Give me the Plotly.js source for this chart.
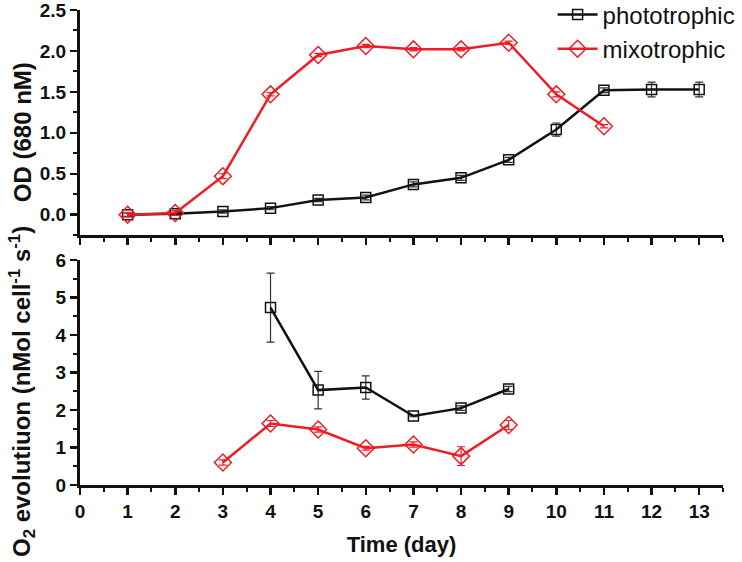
<!DOCTYPE html>
<html>
<head>
<meta charset="utf-8">
<script src="https://cdn.plot.ly/plotly-3.0.1.min.js"></script>
<style>
  body { margin: 0; background: #fff; }
  #chart { width: 742px; height: 562px; }
</style>
</head>
<body>
<div id="chart"></div>
<script>
// data ---------------------------------------------------------------------
const days = [1, 2, 3, 4, 5, 6, 7, 8, 9, 10, 11, 12, 13];

const odPhoto = [0.0, 0.01, 0.04, 0.08, 0.18, 0.21, 0.37, 0.45, 0.67, 1.04, 1.52, 1.53, 1.53];
const odPhotoErr = [0.02, 0.02, 0.02, 0.02, 0.02, 0.03, 0.03, 0.03, 0.03, 0.08, 0.03, 0.09, 0.09];

const daysMixOd = [1, 2, 3, 4, 5, 6, 7, 8, 9, 10, 11];
const odMixo = [0.0, 0.02, 0.47, 1.47, 1.95, 2.06, 2.02, 2.02, 2.10, 1.47, 1.08];
const odMixoErr = [0.03, 0.03, 0.03, 0.02, 0.02, 0.02, 0.02, 0.02, 0.02, 0.03, 0.02];

const daysO2Photo = [4, 5, 6, 7, 8, 9];
const o2Photo = [4.73, 2.53, 2.60, 1.84, 2.05, 2.56];
const o2PhotoErr = [0.92, 0.50, 0.31, 0.02, 0.06, 0.07];

const daysO2Mixo = [3, 4, 5, 6, 7, 8, 9];
const o2Mixo = [0.60, 1.64, 1.48, 0.98, 1.08, 0.77, 1.60];
const o2MixoErr = [0.07, 0.08, 0.07, 0.05, 0.07, 0.25, 0.12];

const xTicks = [0, 1, 2, 3, 4, 5, 6, 7, 8, 9, 10, 11, 12, 13];

// styles -------------------------------------------------------------------
const BLACK = "#111111";
const RED = "#ee1c24";
const FONT = "Liberation Sans, Arial, sans-serif";

function photoTrace(x, y, err, yaxis, xaxis, showlegend) {
    return {
        x: x, y: y, xaxis: xaxis, yaxis: yaxis,
        mode: "lines+markers", name: "phototrophic", showlegend: showlegend,
        line: { color: BLACK, width: 2.5 },
        marker: { symbol: "square-open", size: 10, color: BLACK, line: { width: 1.5 } },
        error_y: { type: "data", array: err, color: "#333333", thickness: 1.2, width: 4 }
    };
}

function mixoTrace(x, y, err, yaxis, xaxis, showlegend) {
    return {
        x: x, y: y, xaxis: xaxis, yaxis: yaxis,
        mode: "lines+markers", name: "mixotrophic", showlegend: showlegend,
        line: { color: RED, width: 2.5 },
        marker: { symbol: "diamond-open", size: 13, color: RED, line: { width: 1.5 } },
        error_y: { type: "data", array: err, color: RED, thickness: 1.2, width: 4 }
    };
}

const data = [
    photoTrace(days, odPhoto, odPhotoErr, "y", "x", true),
    mixoTrace(daysMixOd, odMixo, odMixoErr, "y", "x", true),
    photoTrace(daysO2Photo, o2Photo, o2PhotoErr, "y2", "x2", false),
    mixoTrace(daysO2Mixo, o2Mixo, o2MixoErr, "y2", "x2", false)
];

const axisCommon = {
    showline: true, linecolor: BLACK, linewidth: 3,
    ticks: "outside", ticklen: 7, tickwidth: 2.5, tickcolor: BLACK,
    showgrid: false, zeroline: false, ticklabeloverflow: "allow",
    tickfont: { family: FONT, size: 19, color: BLACK, weight: "bold" }
};

const minorTicks = { ticklen: 4, tickwidth: 2, tickcolor: BLACK, ticks: "outside" };
const titleFont = { family: FONT, size: 24, color: BLACK, weight: "bold" };

const layout = {
    width: 742, height: 562,
    margin: { l: 80, r: 19, t: 10, b: 77, autoexpand: false },
    paper_bgcolor: "#fff", plot_bgcolor: "#fff",
    font: { family: FONT, color: BLACK },
    showlegend: true,
    legend: {
        x: 0.735, y: 1.037, xanchor: "left", yanchor: "top",
        font: { family: FONT, size: 24, color: BLACK },
        bgcolor: "rgba(0,0,0,0)", tracegroupgap: 0, itemwidth: 40
    },
    xaxis: Object.assign({}, axisCommon, {
        domain: [0, 1], anchor: "y", range: [0, 13.5],
        tickvals: xTicks, showticklabels: false,
        minor: Object.assign({ dtick: 0.5 }, minorTicks)
    }),
    yaxis: Object.assign({}, axisCommon, {
        domain: [0.526, 1], anchor: "x", range: [-0.25, 2.5],
        tickvals: [0, 0.5, 1, 1.5, 2, 2.5], ticktext: ["0.0", "0.5", "1.0", "1.5", "2.0", "2.5"],
        minor: Object.assign({ tickvals: [-0.25, 0.25, 0.75, 1.25, 1.75, 2.25] }, minorTicks)
    }),
    xaxis2: Object.assign({}, axisCommon, {
        domain: [0, 1], anchor: "y2", range: [0, 13.5],
        tickvals: xTicks,
        minor: Object.assign({ dtick: 0.5 }, minorTicks),
        title: { text: "Time (day)", font: { family: FONT, size: 22, color: BLACK, weight: "bold" }, standoff: 16 }
    }),
    yaxis2: Object.assign({}, axisCommon, {
        domain: [0, 0.4737], anchor: "x2", range: [0, 6],
        tickvals: [0, 1, 2, 3, 4, 5, 6],
        minor: Object.assign({ dtick: 0.5 }, minorTicks)
    }),
    // y titles as rotated annotations so they sit where the figure has them
    annotations: [
        {
            text: "OD (680 nM)", textangle: -90, showarrow: false,
            xref: "paper", yref: "paper", x: -0.09, y: 0.743,
            xanchor: "center", yanchor: "middle", font: titleFont
        },
        {
            text: "O<sub>2</sub> evolutiuon (nMol cell<sup>-1</sup> s<sup>-1</sup>)",
            textangle: -90, showarrow: false,
            xref: "paper", yref: "paper", x: -0.09, y: 0.196,
            xanchor: "center", yanchor: "middle", font: titleFont
        }
    ]
};

Plotly.newPlot("chart", data, layout, { displayModeBar: false, staticPlot: true });
</script>
</body>
</html>
